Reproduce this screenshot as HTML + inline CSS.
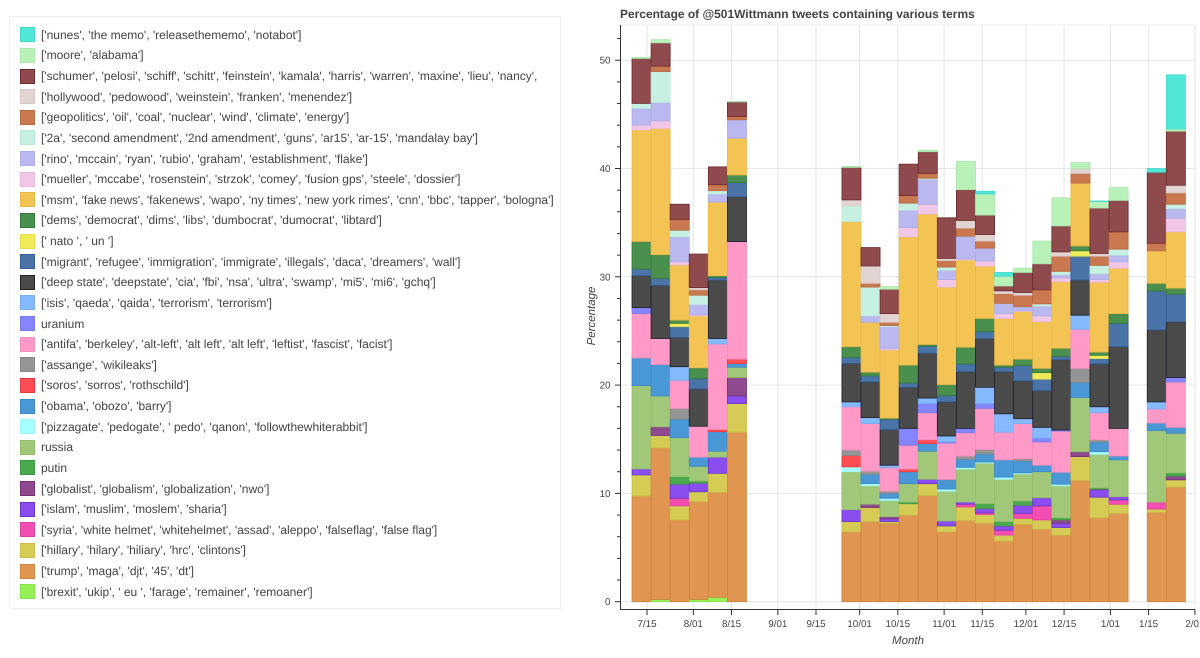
<!DOCTYPE html>
<html lang="en">
<head>
<meta charset="utf-8">
<title>Percentage of @501Wittmann tweets containing various terms</title>
<style>
html,body{margin:0;padding:0;background:#fff;width:1200px;height:658px;overflow:hidden;font-family:"Liberation Sans",Arial,sans-serif;}
#legend{position:absolute;left:9px;top:16px;width:552px;height:593px;border:1px solid #eeeeee;box-sizing:border-box;padding-top:7.5px;}
.row{height:20.64px;display:flex;align-items:center;padding-left:10px;white-space:nowrap;overflow:hidden;}
.sw{width:15px;height:15px;box-sizing:border-box;border:1px solid;flex:none;margin-right:6px;}
.tx{font-size:12px;color:#444;text-rendering:geometricPrecision;}
#chart{position:absolute;left:0;top:0;}
text{font-family:"Liberation Sans",Arial,sans-serif;fill:#444;text-rendering:geometricPrecision;}
</style>
</head>
<body>
<div id="legend">
<div class="row"><span class="sw" style="background:#50e6d8;border-color:#45d8ca"></span><span class="tx">['nunes', 'the memo', 'releasethememo', 'notabot']</span></div>
<div class="row"><span class="sw" style="background:#b9f2b9;border-color:#aee8ae"></span><span class="tx">['moore', 'alabama']</span></div>
<div class="row"><span class="sw" style="background:#8f4a4e;border-color:#6f2a2e"></span><span class="tx">['schumer', 'pelosi', 'schiff', 'schitt', 'feinstein', 'kamala', 'harris', 'warren', 'maxine', 'lieu', 'nancy',</span></div>
<div class="row"><span class="sw" style="background:#e3d4d4;border-color:#d8c8c8"></span><span class="tx">['hollywood', 'pedowood', 'weinstein', 'franken', 'menendez']</span></div>
<div class="row"><span class="sw" style="background:#c9784f;border-color:#b86a42"></span><span class="tx">['geopolitics', 'oil', 'coal', 'nuclear', 'wind', 'climate', 'energy']</span></div>
<div class="row"><span class="sw" style="background:#c6f0e2;border-color:#bce8da"></span><span class="tx">['2a', 'second amendment', '2nd amendment', 'guns', 'ar15', 'ar-15', 'mandalay bay']</span></div>
<div class="row"><span class="sw" style="background:#b9b9f0;border-color:#adade6"></span><span class="tx">['rino', 'mccain', 'ryan', 'rubio', 'graham', 'establishment', 'flake']</span></div>
<div class="row"><span class="sw" style="background:#f2c6e6;border-color:#e8bcdc"></span><span class="tx">['mueller', 'mccabe', 'rosenstein', 'strzok', 'comey', 'fusion gps', 'steele', 'dossier']</span></div>
<div class="row"><span class="sw" style="background:#f3c454;border-color:#e8b848"></span><span class="tx">['msm', 'fake news', 'fakenews', 'wapo', 'ny times', 'new york rimes', 'cnn', 'bbc', 'tapper', 'bologna']</span></div>
<div class="row"><span class="sw" style="background:#4a8f4e;border-color:#357a3a"></span><span class="tx">['dems', 'democrat', 'dims', 'libs', 'dumbocrat', 'dumocrat', 'libtard']</span></div>
<div class="row"><span class="sw" style="background:#eeea58;border-color:#e4e04c"></span><span class="tx">[' nato ', ' un ']</span></div>
<div class="row"><span class="sw" style="background:#4a73a8;border-color:#355e94"></span><span class="tx">['migrant', 'refugee', 'immigration', 'immigrate', 'illegals', 'daca', 'dreamers', 'wall']</span></div>
<div class="row"><span class="sw" style="background:#4a4a4a;border-color:#222222"></span><span class="tx">['deep state', 'deepstate', 'cia', 'fbi', 'nsa', 'ultra', 'swamp', 'mi5', 'mi6', 'gchq']</span></div>
<div class="row"><span class="sw" style="background:#85baff;border-color:#79aef4"></span><span class="tx">['isis', 'qaeda', 'qaida', 'terrorism', 'terrorism']</span></div>
<div class="row"><span class="sw" style="background:#8585ff;border-color:#7979f2"></span><span class="tx">uranium</span></div>
<div class="row"><span class="sw" style="background:#ff99c8;border-color:#f48ebc"></span><span class="tx">['antifa', 'berkeley', 'alt-left', 'alt left', 'alt left', 'leftist', 'fascist', 'facist']</span></div>
<div class="row"><span class="sw" style="background:#959595;border-color:#888888"></span><span class="tx">['assange', 'wikileaks']</span></div>
<div class="row"><span class="sw" style="background:#ff4d55;border-color:#e63a42"></span><span class="tx">['soros', 'sorros', 'rothschild']</span></div>
<div class="row"><span class="sw" style="background:#4a97d6;border-color:#3f88c5"></span><span class="tx">['obama', 'obozo', 'barry']</span></div>
<div class="row"><span class="sw" style="background:#a8ffff;border-color:#9ef4f4"></span><span class="tx">['pizzagate', 'pedogate', ' pedo', 'qanon', 'followthewhiterabbit']</span></div>
<div class="row"><span class="sw" style="background:#a0c878;border-color:#95bc6c"></span><span class="tx">russia</span></div>
<div class="row"><span class="sw" style="background:#4aa94e;border-color:#3d9a42"></span><span class="tx">putin</span></div>
<div class="row"><span class="sw" style="background:#8f4a8f;border-color:#75307a"></span><span class="tx">['globalist', 'globalism', 'globalization', 'nwo']</span></div>
<div class="row"><span class="sw" style="background:#8a4df0;border-color:#6a35c8"></span><span class="tx">['islam', 'muslim', 'moslem', 'sharia']</span></div>
<div class="row"><span class="sw" style="background:#f24db0;border-color:#e040a0"></span><span class="tx">['syria', 'white helmet', 'whitehelmet', 'assad', 'aleppo', 'falseflag', 'false flag']</span></div>
<div class="row"><span class="sw" style="background:#d6cc55;border-color:#c8be48"></span><span class="tx">['hillary', 'hilary', 'hiliary', 'hrc', 'clintons']</span></div>
<div class="row"><span class="sw" style="background:#e09650;border-color:#d08640"></span><span class="tx">['trump', 'maga', 'djt', '45', 'dt']</span></div>
<div class="row"><span class="sw" style="background:#95f055;border-color:#88e44a"></span><span class="tx">['brexit', 'ukip', ' eu ', 'farage', 'remainer', 'remoaner']</span></div>
</div>

<svg id="chart" width="1200" height="658" viewBox="0 0 1200 658" xmlns="http://www.w3.org/2000/svg">
<text x="620" y="18" font-size="11.97" font-weight="bold">Percentage of @501Wittmann tweets containing various terms</text>
<text transform="translate(595,316) rotate(-90)" text-anchor="middle" font-size="11.5" font-style="italic">Percentage</text>
<text x="908" y="644" text-anchor="middle" font-size="11.5" font-style="italic">Month</text>
<g id="grid"></g>
<g id="bars"></g>
<g id="axes"></g>
</svg>

<script>
const weeks = ["2017-07-13","2017-07-20","2017-07-27","2017-08-03","2017-08-10","2017-08-17","2017-09-28","2017-10-05","2017-10-12","2017-10-19","2017-10-26","2017-11-02","2017-11-09","2017-11-16","2017-11-23","2017-11-30","2017-12-07","2017-12-14","2017-12-21","2017-12-28","2018-01-04","2018-01-18","2018-01-25"];

const brexit = [0,.2,0,.2,.4,0,0,0,0,0,0,0,0,0,0,0,0,0,0,0,0,0,0];
const trump = [9.76,14,7.55,9.05,9.7,15.65,6.45,7.4,7.25,8,9.8,6.45,7.5,7.25,5.6,7.15,6.7,6.15,11.2,7.75,8.15,8.25,10.6];
const hillary = [1.95,1.15,1.3,.9,1.75,2.65,.95,1.3,.15,1.05,1.1,.55,1.25,.8,.55,.55,.85,.7,2.2,1.9,.85,.3,.65];
const syria = [0,0,.7,0,0,0,0,0,0,0,0,0,.25,.15,.45,.45,1.3,0,0,0,.4,.65,0];
const islam = [.55,0,1.3,.8,1.5,.7,1.1,0,.25,0,.4,.45,.2,.4,.4,.75,.75,.4,0,.7,.3,0,0];
const globalist = [0,.8,0,0,0,1.7,0,.3,.2,0,0,0,0,0,0,0,0,.3,.45,.05,0,0,.35];
const putin = [0,0,.7,.2,0,0,0,0,0,.15,0,0,0,.45,.4,.4,0,.2,0,.1,0,0,.3];
const russia = [7.7,2.85,3.6,1.35,.55,.95,3.5,1.7,1.5,1.7,2.6,2.75,3.05,3.75,3.9,2.5,2.4,2.95,5,3.1,3.4,6.6,3.65];
const pizzagate = [0,0,0,0,0,0,.45,.2,.2,0,0,.2,.15,.1,.2,.1,0,.15,0,.25,0,0,0];
const obama = [2.55,2.9,1.7,.85,1.8,.35,0,.85,.45,1.1,.7,.85,.75,.75,1.6,1.1,.6,1.1,1.4,.9,.35,.7,.55];
const soros = [0,0,0,0,.2,.4,1.05,0,0,.25,.35,0,0,0,0,0,0,0,0,0,0,0,0];
const assange = [0,0,1,0,0,0,.5,.3,.2,0,0,.05,.3,.4,0,.2,0,0,1.3,.2,0,0,0];
const antifa = [4.1,2.4,2.6,2.85,7.9,10.85,4,4.4,2.2,2.2,2.5,3.35,2.15,3.8,2.55,3.25,2.15,3.8,3.6,2.5,2.55,1.3,4.2];
const uranium = [.55,0,0,0,0,0,0,0,0,1.55,.85,.1,.4,.45,0,0,.35,.1,0,0,0,0,.4];
const isis = [0,0,1.25,0,.5,0,.45,.55,.2,0,.5,.55,0,1.5,1.7,.45,1,0,1.3,.55,0,.65,0];
const deepstate = [2.95,4.9,2.7,3.45,5.4,4.15,3.55,3.3,3.3,3.8,4.15,3.15,5.25,4.5,3.9,3.5,3.4,6.5,3.25,3.95,7.55,6.65,5.15];
const migrant = [.6,.65,1,.95,.25,1.3,.55,.55,.95,.4,.65,.6,.7,.65,.4,1.4,1.05,.3,2.2,.5,2.15,3.6,2.55];
const nato = [0,0,.3,0,0,0,0,0,0,0,0,0,0,0,0,0,.6,0,.5,.3,0,0,0];
const dems = [2.55,2.2,.3,1,.15,.7,1,.35,.1,1.65,.15,1,1.55,1.2,.2,.6,.4,.75,.45,.3,.9,.7,.55];
const msm = [10.3,11.65,5.1,4.8,6.8,3.4,11.55,4.6,6.3,11.85,12.05,9,8.05,4.85,4.3,4.4,4.3,6.15,5.8,6.45,4.2,3,5.2];
const mueller = [.45,.7,.3,.1,0,0,0,0,.15,.85,.9,.7,.1,.45,.45,.1,.55,.35,0,.25,.6,0,1.25];
const rino = [1.55,1.7,2.3,.95,.75,1.7,0,.6,2,1.6,2.3,.85,2.1,1.2,.95,.35,.9,.3,0,.55,.6,0,.9];
const secondAmendment = [.45,2.85,.6,.85,.3,0,1.45,2.65,.1,.65,.1,.3,0,0,0,0,.2,.3,0,.75,.55,0,.4];
const geopolitics = [0,.5,1,.5,.55,.3,0,.35,.3,.7,.45,.6,.75,.65,.9,1.05,1.3,1.4,.9,.85,1.6,.7,1.05];
const hollywood = [0,0,0,.2,0,0,.55,1.6,.8,0,0,.2,.7,.6,.25,.25,0,.4,.45,.25,0,0,.7];
const schumer = [4.15,2.15,1.4,3.1,1.65,1.35,3,1.7,2.25,2.9,2,3.75,2.85,1.8,.45,1.85,2.4,2.4,0,4.2,2.9,6.55,5];
const moore = [.1,.3,0,0,0,.05,.1,0,.25,0,.15,0,2.6,1.95,.9,.4,2.1,2.6,.55,.6,1.2,0,.2];
const nunes = [0,0,0,0,0,0,0,0,0,0,0,0,0,.25,.35,0,0,0,0,.05,0,.35,5];

const stackOrder = [brexit,trump,hillary,syria,islam,globalist,putin,russia,pizzagate,obama,soros,assange,antifa,uranium,isis,deepstate,migrant,nato,dems,msm,mueller,rino,secondAmendment,geopolitics,hollywood,schumer,moore,nunes];
const seriesNames = ["brexit","trump","hillary","syria","islam","globalist","putin","russia","pizzagate","obama","soros","assange","antifa","uranium","isis","deepstate","migrant","nato","dems","msm","mueller","rino","2a","geopolitics","hollywood","schumer","moore","nunes"];
const seriesFill = ["#95f055","#e09650","#d6cc55","#f24db0","#8a4df0","#8f4a8f","#4aa94e","#a0c878","#a8ffff","#4a97d6","#ff4d55","#959595","#ff99c8","#8585ff","#85baff","#4a4a4a","#4a73a8","#eeea58","#4a8f4e","#f3c454","#f2c6e6","#b9b9f0","#c6f0e2","#c9784f","#e3d4d4","#8f4a4e","#b9f2b9","#50e6d8"];
const seriesStroke = ["#88e44a","#d08640","#c8be48","#e040a0","#6a35c8","#75307a","#3d9a42","#95bc6c","#9ef4f4","#3f88c5","#e63a42","#888888","#f48ebc","#7979f2","#79aef4","#1f1f2a","#355e94","#e4e04c","#357a3a","#e8b848","#e8bcdc","#adade6","#bce8da","#b86a42","#d8c8c8","#6f2a2e","#aee8ae","#45d8ca"];

const xTickDates = ["2017-07-15","2017-08-01","2017-08-15","2017-09-01","2017-09-15","2017-10-01","2017-10-15","2017-11-01","2017-11-15","2017-12-01","2017-12-15","2018-01-01","2018-01-15","2018-02-01"];
const xTickLabels = ["7/15","8/01","8/15","9/01","9/15","10/01","10/15","11/01","11/15","12/01","12/15","1/01","1/15","2/01"];
const yMajorTicks = [0,10,20,30,40,50];
const yMinorTicks = [2,4,6,8,12,14,16,18,22,24,26,28,32,34,36,38,42,44,46,48,52];

const SVGNS = "http://www.w3.org/2000/svg";
const DAY = 86400000;
const originDay = Date.UTC(2017,6,15);
const barDays = 7;
function xDate(iso){
  const p = iso.split("-");
  const d = (Date.UTC(+p[0],+p[1]-1,+p[2]) - originDay)/DAY;
  return 647 + 2.726*d;
}
function yVal(v){ return 601.7 - 10.83*v; }
function mk(tag, attrs, parent){
  const e = document.createElementNS(SVGNS, tag);
  for (const k in attrs) e.setAttribute(k, attrs[k]);
  parent.appendChild(e);
  return e;
}
const grid = document.getElementById("grid");
const barsG = document.getElementById("bars");
const axes = document.getElementById("axes");

yMajorTicks.forEach(function(t){
  const l = mk("line",{x1:621,x2:1195,y1:yVal(t),y2:yVal(t),stroke:"#e6e6e6","stroke-width":1},grid);
  
  
});
xTickDates.forEach(function(t){
  const l = mk("line",{x1:xDate(t),x2:xDate(t),y1:25,y2:609,stroke:"#e6e6e6","stroke-width":1},grid);
  
  
});
const topBorder = mk("line",{x1:621,x2:1195,y1:25,y2:25,stroke:"#ededed","stroke-width":1},grid);



const bw = barDays*2.726;
weeks.forEach(function(w,i){
  let base = 0;
  const cx = xDate(w);
  stackOrder.forEach(function(series,s){
    const v = series[i];
    if (v <= 0) return;
    const top = base + v;
    const r = mk("rect",{x:cx-bw/2,y:yVal(top),width:bw,height:yVal(base)-yVal(top),fill:seriesFill[s],stroke:seriesStroke[s],"stroke-width":0.8},barsG);
    
    
    base = top;
  });
});

const yAxis = mk("line",{x1:620.5,x2:620.5,y1:25,y2:610,stroke:"#333","stroke-width":1},axes);


const xAxis = mk("line",{x1:620,x2:1195,y1:609.5,y2:609.5,stroke:"#333","stroke-width":1},axes);



yMajorTicks.forEach(function(t){
  const l = mk("line",{x1:615,x2:620.5,y1:yVal(t),y2:yVal(t),stroke:"#333","stroke-width":1},axes);
  
  
  const tx = mk("text",{x:610.5,y:yVal(t)+3.5,"text-anchor":"end","font-size":9.8},axes);
  tx.textContent = String(t);
  
  
});
yMinorTicks.forEach(function(t){
  const l = mk("line",{x1:617,x2:620.5,y1:yVal(t),y2:yVal(t),stroke:"#333","stroke-width":1},axes);
  
  
});
xTickDates.forEach(function(t,i){
  const x = xDate(t);
  const l = mk("line",{x1:x,x2:x,y1:609.5,y2:615,stroke:"#333","stroke-width":1},axes);
  
  
  const tx = mk("text",{x:x,y:627,"text-anchor":"middle","font-size":9.8},axes);
  tx.textContent = xTickLabels[i];
  
  
});
</script>
</body>
</html>
